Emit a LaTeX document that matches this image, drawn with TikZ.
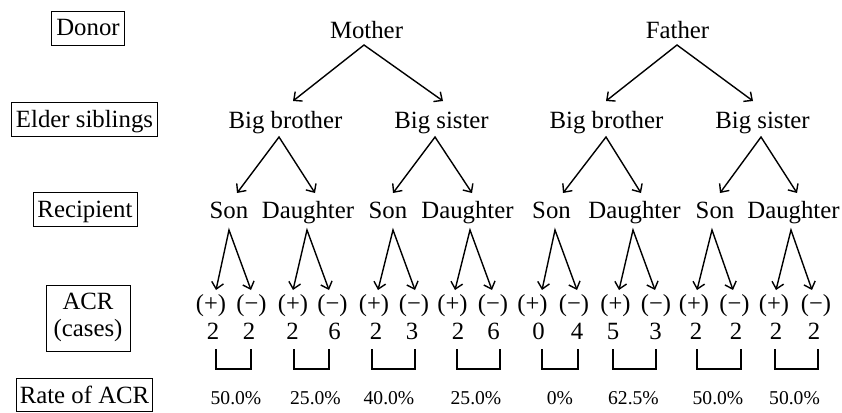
\documentclass[tikz,border=0pt]{standalone}
\usepackage{fontspec}
\setmainfont{Liberation Serif}
\usetikzlibrary{arrows.meta,calc}
\begin{document}
\begin{tikzpicture}[x=1pt,y=-1pt,
  txt/.style={anchor=base,inner sep=0pt,font=\fontsize{24.8pt}{27pt}\selectfont},
  sgn/.style={anchor=base,inner sep=0pt,font=\fontsize{24.5pt}{27pt}\selectfont},
  cnt/.style={anchor=base,inner sep=0pt,font=\fontsize{24.8pt}{27pt}\selectfont},
  rate/.style={anchor=base,inner sep=0pt,font=\fontsize{19.6pt}{22pt}\selectfont},
  lbl/.style={anchor=base,draw,line width=0.9pt,inner xsep=4.5pt,inner ysep=0pt,
    text height=25pt,text depth=9pt,font=\fontsize{24.8pt}{27pt}\selectfont},
  arr/.style={line width=1.4pt,line join=miter,
    {Straight Barb[length=6.5pt,width=12pt]}-{Straight Barb[length=6.5pt,width=12pt]}},
  brk/.style={line width=1.1pt}]
\useasboundingbox (0,0) rectangle (842,412);

% left labels
\node[lbl] (ldon) at (88,36) {Donor};
\node[lbl] (lsib) at (84.5,127) {Elder siblings};
\node[lbl] (lrec) at (85,217) {Recipient};
\node[draw,line width=0.9pt,minimum width=84pt,minimum height=66pt,inner sep=0pt,
  font=\fontsize{24.8pt}{27pt}\selectfont] (lacr) at (88,318)
  {\begin{tabular}{@{}c@{}}ACR\\(cases)\end{tabular}};
\node[lbl,text depth=8.5pt,inner xsep=3pt] (lrate) at (84.5,403) {Rate of ACR};

% donors
\node[txt] (m) at (366.5,38) {Mother};
\node[txt] (f) at (677.5,38) {Father};

% elder siblings
\node[txt] (bb1) at (285.5,128) {Big brother};
\node[txt] (bs1) at (441.5,128) {Big sister};
\node[txt] (bb2) at (606.5,128) {Big brother};
\node[txt] (bs2) at (762.5,128) {Big sister};

% recipients
\node[txt] (s1) at (229,218) {Son};
\node[txt] (d1) at (308,218) {Daughter};
\node[txt] (s2) at (388,218) {Son};
\node[txt] (d2) at (467.5,218) {Daughter};
\node[txt] (s3) at (551.5,218) {Son};
\node[txt] (d3) at (634.5,218) {Daughter};
\node[txt] (s4) at (715,218) {Son};
\node[txt] (d4) at (793.5,218) {Daughter};

% ACR signs
\foreach \i/\px/\nx in {1/211/251.5,2/293/332.5,3/374/414,4/452.5/493,
                        5/532.5/574,6/615.5/656,7/694/734.5,8/774/816}{
  \node[sgn] (p\i) at (\px,311) {(+)};
  \node[sgn] (n\i) at (\nx,311) {(−)};
}

% counts
\foreach \i/\ax/\av/\bx/\bv in {1/213/2/249/2,2/292.5/2/334.5/6,3/376/2/412/3,
   4/458/2/493.5/6,5/538.5/0/577/4,6/613/5/655.5/3,7/696/2/736/2,8/776/2/814/2}{
  \node[cnt] (ca\i) at (\ax,339) {\av};
  \node[cnt] (cb\i) at (\bx,339) {\bv};
}

% brackets
\foreach \l/\r in {216/251,294/329,372/415,457/500,542/578,613/656,697/741,775/818}{
  \draw[brk] (\l,349) -- (\l,369) -- (\r,369) -- (\r,349);
}

% rates
\node[rate] (r1) at (236,404) {50.0\%};
\node[rate] (r2) at (315.5,404) {25.0\%};
\node[rate] (r3) at (389,404) {40.0\%};
\node[rate] (r4) at (476,404) {25.0\%};
\node[rate] (r5) at (560,404) {0\%};
\node[rate] (r6) at (633.5,404) {62.5\%};
\node[rate] (r7) at (718,404) {50.0\%};
\node[rate] (r8) at (794.5,404) {50.0\%};

% level 1 arrows
\draw[arr] ($(bb1.base)+(7.5,-27)$) -- ($(m.base)+(-2.5,7)$) -- ($(bs1.base)+(1.5,-27)$);
\draw[arr] ($(bb2.base)+(-0.5,-27)$) -- ($(f.base)+(-0.5,7)$) -- ($(bs2.base)+(-9.5,-27)$);

% level 2 arrows
\draw[arr] ($(s1.base)+(8,-25)$) -- ($(bb1.base)+(-6.5,9)$) -- ($(d1.base)+(7,-25)$);
\draw[arr] ($(s2.base)+(5,-25)$) -- ($(bs1.base)+(-6.5,9)$) -- ($(d2.base)+(4.5,-25)$);
\draw[arr] ($(s3.base)+(11.5,-25)$) -- ($(bb2.base)+(-0.5,9)$) -- ($(d3.base)+(6.5,-25)$);
\draw[arr] ($(s4.base)+(5,-25)$) -- ($(bs2.base)+(-1.5,9)$) -- ($(d4.base)+(3.5,-25)$);

% level 3 arrows
\draw[arr] ($(p1.base)+(5,-21)$) -- ($(s1.base)+(0,12)$) -- ($(n1.base)+(-0.5,-21)$);
\draw[arr] ($(p2.base)+(0,-21)$) -- ($(d1.base)+(-1,12)$) -- ($(n2.base)+(-3.5,-21)$);
\draw[arr] ($(p3.base)+(4,-21)$) -- ($(s2.base)+(5,12)$) -- ($(n3.base)+(1,-21)$);
\draw[arr] ($(p4.base)+(2.5,-21)$) -- ($(d2.base)+(2.5,12)$) -- ($(n4.base)+(-1,-21)$);
\draw[arr] ($(p5.base)+(9.5,-21)$) -- ($(s3.base)+(3.5,12)$) -- ($(n5.base)+(3,-21)$);
\draw[arr] ($(p6.base)+(3.5,-21)$) -- ($(d3.base)+(-1.5,12)$) -- ($(n6.base)+(-1,-21)$);
\draw[arr] ($(p7.base)+(3,-21)$) -- ($(s4.base)+(-3,12)$) -- ($(n7.base)+(-1.5,-21)$);
\draw[arr] ($(p8.base)+(2,-21)$) -- ($(d4.base)+(-2.5,12)$) -- ($(n8.base)+(-4,-21)$);
\end{tikzpicture}
\end{document}
